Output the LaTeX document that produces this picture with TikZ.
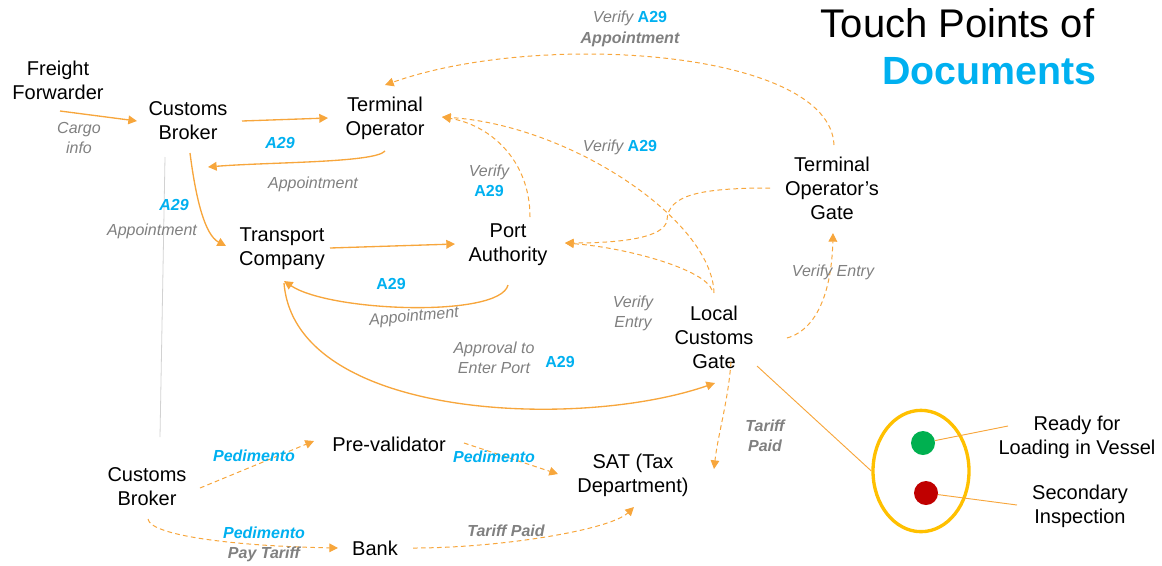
\documentclass[tikz,border=0pt]{standalone}
\usepackage{fontspec}
\setmainfont{Liberation Sans}
\usetikzlibrary{arrows.meta,shapes.geometric}

\definecolor{flow}{RGB}{247,166,60}
\definecolor{docblue}{RGB}{0,176,240}
\definecolor{notegray}{RGB}{128,128,128}
\definecolor{ringgold}{RGB}{255,192,0}
\definecolor{okgreen}{RGB}{0,176,80}
\definecolor{stopred}{RGB}{192,0,0}
\definecolor{guide}{RGB}{210,210,210}

\newcommand{\Adoc}{\textcolor{docblue}{\bfseries\upshape A29}}
\newcommand{\Ped}{\textcolor{docblue}{\bfseries\itshape Pedimento}}

\begin{document}
\begin{tikzpicture}
	[
		x=0.75pt, y=-0.75pt,
		flowline/.style={draw=flow, line width=1pt, -{Triangle[length=6.5pt,width=6.5pt]}},
		checkline/.style={draw=flow, line width=0.75pt, dash pattern=on 3.5pt off 2.5pt, -{Triangle[length=6.5pt,width=6.5pt]}}
	]
	
	\tikzstyle{Actor} = [
		font=\fontsize{15}{18}\selectfont,
		align=center,
		inner sep=0pt
	]
	\tikzstyle{Note} = [
		font=\fontsize{12}{15}\selectfont\itshape,
		align=center,
		inner sep=0pt,
		text=notegray
	]
	\tikzstyle{Doc} = [
		font=\fontsize{12}{15}\selectfont\bfseries,
		inner sep=0pt,
		text=docblue
	]
	
	\useasboundingbox (0,0) rectangle (1162,565);
	
	\node [anchor=base east, font=\fontsize{30}{36}\selectfont] (title) at (1099,37) {Touch Points of};
	\node [anchor=base east, font=\fontsize{29.5}{36}\selectfont\bfseries, text=docblue] (subtitle) at (1101,84) {Documents};
	
	\node [Actor] (ff) at (58,80) {Freight\\Forwarder};
	\node [Actor] (cbt) at (188,121) {Customs\\Broker};
	\node [Actor] (tro) at (385,118) {Terminal\\Operator};
	\node [Actor] (tc) at (282,249) {Transport\\Company};
	\node [Actor] (pa) at (508,245) {Port\\Authority};
	\node [Actor] (tog) at (832,188) {Terminal\\Operator’s\\Gate};
	\node [Actor] (lcg) at (714,337) {Local\\Customs\\Gate};
	\node [Actor] (cbb) at (147,487) {Customs\\Broker};
	\node [Actor] (pv) at (389,444) {Pre-validator};
	\node [Actor] (sat) at (633,475) {SAT (Tax\\Department)};
	\node [Actor] (bank) at (375,548) {Bank};
	
	\draw [guide, line width=0.6pt] ([shift={(-23,36)}]cbt.center) -- ([shift={(13,-50)}]cbb.center);
	
	\draw [flowline] ([shift={(2,31)}]ff.center) -- ([shift={(-51,0)}]cbt.center);
	\draw [flowline] ([shift={(54,0)}]cbt.center) -- ([shift={(-57,0)}]tro.center);
	\draw [flowline] ([shift={(0,33)}]tro.center) .. controls +(-10,12) and +(60,-5) .. ([shift={(20,46)}]cbt.center);
	\draw [flowline] ([shift={(2,32)}]cbt.center) .. controls +(6,47) and +(-21,-11) .. ([shift={(-56,-3)}]tc.center);
	\draw [flowline] ([shift={(48,-1)}]tc.center) -- ([shift={(-53,-1)}]pa.center);
	\draw [flowline] ([shift={(0,40)}]pa.center) .. controls +(-8,33) and +(46,31) .. ([shift={(2,32)}]tc.center);
	\draw [flowline] ([shift={(2,34)}]tc.center) .. controls +(11,137) and +(-135,47) .. ([shift={(1,46)}]lcg.center);
	
	\draw [checkline] ([shift={(2,-43)}]tog.center) .. controls +(-4,-95) and +(155,-55) .. ([shift={(0,-33)}]tro.center);
	\draw [checkline] ([shift={(0,-44)}]lcg.center) .. controls +(-2,-73) and +(128,8) .. ([shift={(57,-1)}]tro.center);
	\draw [checkline] ([shift={(22,-28)}]pa.center) .. controls +(0,-57) and +(48,8) .. ([shift={(57,-1)}]tro.center);
	\draw [checkline] ([shift={(-2,-47)}]lcg.center) .. controls +(-7,-20) and +(65,5) .. ([shift={(57,-2)}]pa.center);
	\draw [checkline] ([shift={(-62,0)}]tog.center) .. controls +(-70,0) and +(1,-25) .. ([shift={(159,-25)}]pa.center)
		.. controls +(-2,18) and +(55,0) .. ([shift={(57,-2)}]pa.center);
	\draw [checkline] ([shift={(73,1)}]lcg.center) .. controls +(35,-10) and +(-1,47) .. ([shift={(1,45)}]tog.center);
	\draw [checkline] ([shift={(17,25)}]lcg.center) .. controls +(-3,40) and +(4,-35) .. ([shift={(81,-6)}]sat.center);
	
	\draw [checkline] ([shift={(53,1)}]cbb.center) -- ([shift={(-75,-3)}]pv.center);
	\draw [checkline] ([shift={(75,-1)}]pv.center) -- ([shift={(-75,-1)}]sat.center);
	\draw [checkline] ([shift={(1,32)}]cbb.center) .. controls +(2,16) and +(-108,-2) .. ([shift={(-37,0)}]bank.center);
	\draw [checkline] ([shift={(38,0)}]bank.center) .. controls +(87,0) and +(-24,23) .. ([shift={(1,32)}]sat.center);
	
	\node [Note] (cargo) at (79,138) {Cargo\\info};
	\node [Doc] (a29cb) at (280,143) {\itshape A29};
	\node [Note] (apto) at (313,184) {Appointment};
	\node [Doc] (a29tc) at (174,205) {\itshape A29};
	\node [Note] (aptc) at (152,231) {Appointment};
	\node [Note] (vtog) at (630,18) {Verify \Adoc};
	\node [Note, font=\fontsize{12}{15}\selectfont\bfseries\itshape] (aptog) at (630,39) {Appointment};
	\node [Note] (vlcg) at (620,147) {Verify \Adoc};
	\node [Note] (vpa) at (489,181) {Verify\\\Adoc};
	\node [Doc] (a29pa) at (391,284) {A29};
	\node [Note, rotate=5] (appa) at (414,317) {Appointment};
	\node [Note] (ventry) at (633,313) {Verify\\Entry};
	\node [Note] (approval) at (494,358) {Approval to\\Enter Port};
	\node [Doc] (a29lcg) at (560,362) {A29};
	\node [Note] (ventog) at (833,272) {Verify Entry};
	\node [Note, font=\fontsize{12}{15}\selectfont\bfseries\itshape] (tpsat) at (765,436) {Tariff\\Paid};
	\node [Doc] (pedpv) at (254,456) {\itshape Pedimento};
	\node [Doc] (pedsat) at (494,457) {\itshape Pedimento};
	\node [Note] (pedbank) at (264,544) {\Ped\\{\bfseries Pay Tariff}};
	\node [Note, font=\fontsize{12}{15}\selectfont\bfseries\itshape] (tpbank) at (506,531) {Tariff Paid};
	
	\node [ellipse, draw=ringgold, line width=2.5pt, minimum width=72pt, minimum height=91pt] (ring) at (921,471) {};
	\node [circle, fill=okgreen, minimum size=18pt, inner sep=0pt] (okdot) at (923,443) {};
	\node [circle, fill=stopred, minimum size=18pt, inner sep=0pt] (stopdot) at (926,493) {};
	\node [Actor] (ready) at (1077,437) {Ready for\\Loading in Vessel};
	\node [Actor] (insp) at (1080,506) {Secondary\\Inspection};
	
	\draw [flow, line width=0.7pt] ([shift={(43,29)}]lcg.center) -- (ring.west);
	\draw [flow, line width=0.7pt] (okdot) -- ([shift={(-69,-11)}]ready.center);
	\draw [flow, line width=0.7pt] (stopdot) -- ([shift={(-63,-1)}]insp.center);
\end{tikzpicture}
\end{document}
